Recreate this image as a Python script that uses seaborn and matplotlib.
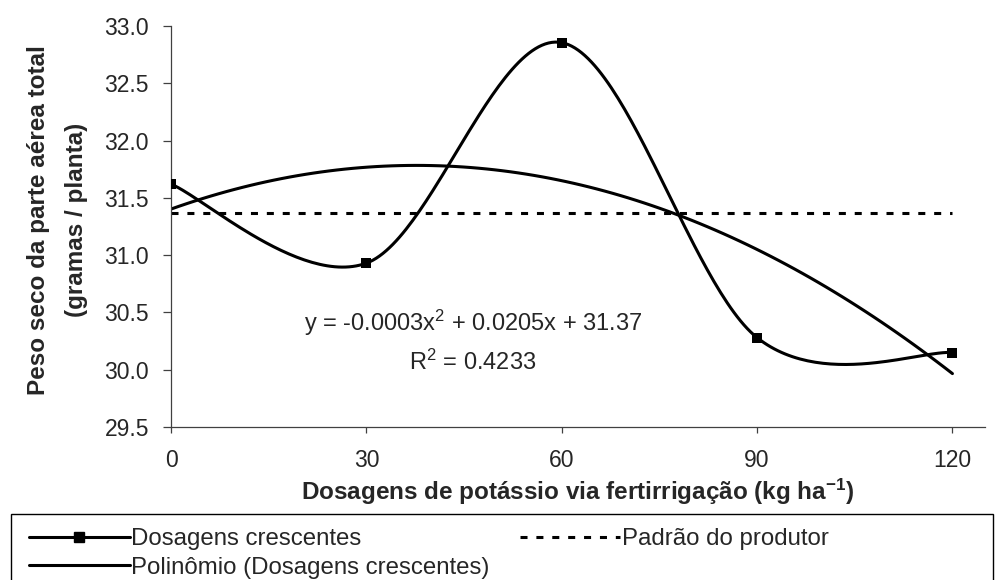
import numpy as np
import pandas as pd
import matplotlib
matplotlib.use("Agg")
import matplotlib.pyplot as plt
from matplotlib.lines import Line2D
from matplotlib.patches import Rectangle
import seaborn as sns

# ---- data ----
doses = [0, 30, 60, 90, 120]
peso = [31.62, 30.93, 32.855, 30.28, 30.15]
padrao = 31.37
x_ticks = [0, 30, 60, 90, 120]
y_ticks = [29.5, 30.0, 30.5, 31.0, 31.5, 32.0, 32.5, 33.0]
eq_text = "y = -0.0003x$^{2}$ + 0.0205x + 31.37"
r2_text = "R$^{2}$ = 0.4233"
xlabel = "Dosagens de potássio via fertirrigação (kg ha$^{-1}$)"
ylabel1 = "Peso seco da parte aérea total"
ylabel2 = "(gramas / planta)"
leg_labels = ["Dosagens crescentes", "Polinômio (Dosagens crescentes)", "Padrão do produtor"]

sns.set_style("white")
plt.rcParams["font.family"] = ["Liberation Sans", "DejaVu Sans"]
plt.rcParams["mathtext.fontset"] = "custom"
plt.rcParams["mathtext.rm"] = "Liberation Sans"
plt.rcParams["mathtext.it"] = "Liberation Sans"
plt.rcParams["mathtext.bf"] = "Liberation Sans:bold"
plt.rcParams["mathtext.default"] = "regular"

W, H = 997, 580
DASH = (0, (2.3, 2.9))
LW = 2.2


def smooth_path(xs, ys, n=60):
    """Excel-like smoothed line (Catmull-Rom Bezier) through the data points."""
    P = np.column_stack([xs, ys]).astype(float)
    ext = np.vstack([P[0], P, P[-1]])
    out = []
    t = np.linspace(0, 1, n)[:, None]
    for i in range(len(P) - 1):
        p0, p1, p2, p3 = ext[i], ext[i + 1], ext[i + 2], ext[i + 3]
        c1 = p1 + (p2 - p0) / 6.0
        c2 = p2 - (p3 - p1) / 6.0
        seg = ((1 - t) ** 3) * p1 + 3 * ((1 - t) ** 2) * t * c1 + 3 * (1 - t) * t ** 2 * c2 + t ** 3 * p2
        out.append(seg if i == 0 else seg[1:])
    out = np.vstack(out)
    return out[:, 0], out[:, 1]


fig = plt.figure(figsize=(W / 100, H / 100), dpi=100)
ax_left, ax_right, ax_top, ax_bottom = 171, 985, 26, 427
ax = fig.add_axes([ax_left / W, 1 - ax_bottom / H, (ax_right - ax_left) / W, (ax_bottom - ax_top) / H])

df = pd.DataFrame({"dose": doses, "peso": peso})
sx, sy = smooth_path(doses, peso)
sns.lineplot(x=sx, y=sy, ax=ax, color="black", lw=LW, sort=False, estimator=None)
sns.scatterplot(data=df, x="dose", y="peso", ax=ax, marker="s", s=44, color="black",
                edgecolor="black", linewidth=0, zorder=5)
sns.regplot(data=df, x="dose", y="peso", order=2, ci=None, scatter=False, ax=ax,
            line_kws=dict(color="black", lw=LW))
sns.lineplot(x=[min(doses), max(doses)], y=[padrao, padrao], ax=ax, color="black",
             lw=LW, linestyle=DASH)

ax.set_xlim(0, 125)
ax.set_ylim(29.5, 33.0)
ax.set_xticks(x_ticks)
ax.set_yticks(y_ticks)
ax.set_xticklabels([str(v) for v in x_ticks])
ax.set_yticklabels([f"{v:.1f}" for v in y_ticks])
ax.set_xlabel("")
ax.set_ylabel("")
for s in ["top", "right"]:
    ax.spines[s].set_visible(False)
for s in ["left", "bottom"]:
    ax.spines[s].set_color("#404040")
    ax.spines[s].set_linewidth(0.9)
ax.tick_params(axis="y", direction="out", length=5.8, width=0.9, color="#404040",
               pad=10, labelsize=16.5, left=True)
ax.tick_params(axis="x", direction="out", length=4.3, width=0.9, color="#404040",
               pad=11.5, labelsize=16.5, bottom=True)

eq_cx = 473
fig.text(eq_cx / W, 1 - 323 / H, eq_text, ha="center", va="center", fontsize=17)
fig.text(eq_cx / W, 1 - 362 / H, r2_text, ha="center", va="center", fontsize=17)

fig.text(578 / W, 1 - 492 / H, xlabel, ha="center", va="center", fontsize=17.5, fontweight="bold")
fig.text(39 / W, 1 - 220 / H, ylabel1, ha="center", va="center", rotation=90,
         fontsize=17.5, fontweight="bold")
fig.text(77 / W, 1 - 220 / H, ylabel2, ha="center", va="center", rotation=90,
         fontsize=17.5, fontweight="bold")

# legend box
fig.patches.append(Rectangle((11 / W, -0.02), (993 - 11) / W, (H - 514) / H + 0.02,
                             transform=fig.transFigure, fill=False, edgecolor="black",
                             lw=1.0, clip_on=False))
handles = [
    Line2D([], [], color="black", lw=LW, marker="s", markersize=6.5),
    Line2D([], [], color="black", lw=LW),
    Line2D([], [], color="black", lw=LW, linestyle=DASH),
]
fig.legend(handles, leg_labels, loc="upper left", bbox_to_anchor=(29 / W, 1 - 528 / H),
           ncol=2, frameon=False, fontsize=17.3, handlelength=4.2, handletextpad=0.05,
           columnspacing=1.25, labelspacing=0.28, borderaxespad=0, borderpad=0)

fig.savefig("out.png", dpi=100)
